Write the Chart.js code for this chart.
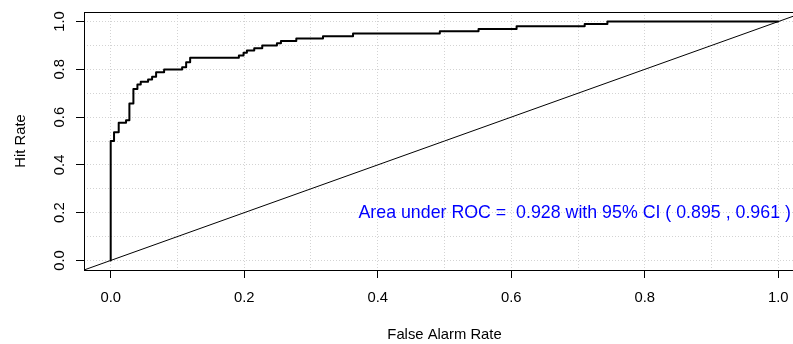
<!DOCTYPE html>
<html><head><meta charset="utf-8">
<script src="https://cdn.jsdelivr.net/npm/chart.js@4.4.1/dist/chart.umd.min.js"></script>
<style>html,body{margin:0;padding:0;background:#fff;overflow:hidden;width:793px;height:344px}canvas{display:block}</style>
</head><body>
<canvas id="c" width="820" height="344"></canvas>
<script>
// ROC curve corner points (False Alarm Rate, Hit Rate)
const rocFAR = [0, 0, 0.005, 0.012, 0.023, 0.028, 0.034, 0.040, 0.045, 0.056, 0.062, 0.068, 0.080, 0.107, 0.113, 0.119, 0.192, 0.199, 0.204, 0.215, 0.227, 0.249, 0.255, 0.278, 0.318, 0.363, 0.493, 0.551, 0.608, 0.710, 0.744, 1.0];
const rocHR  = [0, 0.5, 0.537, 0.576, 0.587, 0.657, 0.718, 0.736, 0.748, 0.757, 0.769, 0.788, 0.799, 0.809, 0.830, 0.849, 0.858, 0.869, 0.879, 0.888, 0.900, 0.909, 0.919, 0.929, 0.938, 0.950, 0.959, 0.969, 0.980, 0.990, 1.0, 1.0];
const axisLimits = [-0.04, 1.04];
const gridValues = [0, 0.1, 0.2, 0.3, 0.4, 0.5, 0.6, 0.7, 0.8, 0.9, 1.0];
const xTickLabels = ['0.0', '0.2', '0.4', '0.6', '0.8', '1.0'];
const yTickLabels = ['0.0', '0.2', '0.4', '0.6', '0.8', '1.0'];
const xTitle = 'False Alarm Rate';
const yTitle = 'Hit Rate';
const aucText = 'Area under ROC =  0.928 with 95% CI ( 0.895 , 0.961 )';
const aucPos = [0.695, 0.2];

const FONT = "'Liberation Sans', Arial, Helvetica, sans-serif";
const BASE = 14.8;
const labelFor = (labels, v) => {
  const l = labels.find(s => Math.abs(parseFloat(s) - v) < 1e-9);
  return l === undefined ? '' : l;
};
const setTicks = s => { s.ticks = gridValues.map(v => ({value: v})); };

const framePlugin = {
  id: 'frameAndText',
  afterDraw(chart) {
    const {ctx, chartArea: a, scales: {x, y}} = chart;
    ctx.save();
    ctx.strokeStyle = '#000';
    ctx.lineWidth = 1;
    ctx.strokeRect(a.left + 0.5, a.top + 0.5, a.right - a.left, a.bottom - a.top);
    // rotated y tick labels
    ctx.fillStyle = '#000';
    ctx.font = BASE + 'px ' + FONT;
    ctx.textAlign = 'center';
    ctx.textBaseline = 'alphabetic';
    yTickLabels.forEach(l => {
      ctx.save();
      ctx.translate(a.left - 20.5, y.getPixelForValue(parseFloat(l)));
      ctx.rotate(-Math.PI / 2);
      ctx.fillText(l, 0, 0);
      ctx.restore();
    });
    // AUC annotation
    const fs = 17.8;
    ctx.font = fs + 'px ' + FONT;
    ctx.fillStyle = '#0000FF';
    ctx.textAlign = 'center';
    ctx.fillText(aucText, x.getPixelForValue(aucPos[0]), y.getPixelForValue(aucPos[1]) + 0.3 * fs);
    ctx.restore();
  }
};

new Chart(document.getElementById('c'), {
  type: 'scatter',
  data: {
    datasets: [
      {
        data: rocFAR.map((v, i) => ({x: v, y: rocHR[i]})),
        showLine: true, stepped: 'before',
        borderColor: '#000', borderWidth: 2,
        borderJoinStyle: 'round', borderCapStyle: 'round',
        pointRadius: 0, pointHoverRadius: 0
      },
      {
        data: axisLimits.map(v => ({x: v, y: v})),
        showLine: true,
        borderColor: '#000', borderWidth: 1,
        pointRadius: 0, pointHoverRadius: 0
      }
    ]
  },
  options: {
    responsive: false, animation: false, devicePixelRatio: 1,
    layout: {padding: {top: 12, right: 15, left: 0, bottom: 0}},
    plugins: {legend: {display: false}, tooltip: {enabled: false}},
    events: [],
    scales: {
      x: {
        type: 'linear', min: axisLimits[0], max: axisLimits[1],
        afterBuildTicks: setTicks,
        afterFit: s => { s.height = 74; },
        grid: {
          color: '#d3d3d3', lineWidth: 1, tickLength: 8, tickWidth: 1, tickBorderDash: [],
          tickColor: c => labelFor(xTickLabels, c.tick ? c.tick.value : NaN) ? '#000' : 'rgba(0,0,0,0)'
        },
        border: {display: false, dash: [1, 2]},
        ticks: {
          autoSkip: false, maxRotation: 0, minRotation: 0, padding: 11, color: '#000',
          font: {family: FONT, size: BASE},
          callback: v => labelFor(xTickLabels, v)
        },
        title: {display: true, text: xTitle, color: '#000', font: {family: FONT, size: BASE}, padding: {top: 0, bottom: 0}}
      },
      y: {
        type: 'linear', min: axisLimits[0], max: axisLimits[1],
        afterBuildTicks: setTicks,
        afterFit: s => { s.width = 84; },
        grid: {
          color: '#d3d3d3', lineWidth: 1, tickLength: 8, tickWidth: 1, tickBorderDash: [],
          tickColor: c => labelFor(yTickLabels, c.tick ? c.tick.value : NaN) ? '#000' : 'rgba(0,0,0,0)'
        },
        border: {display: false, dash: [1, 2]},
        ticks: {display: false},
        title: {display: true, text: yTitle, color: '#000', font: {family: FONT, size: BASE}, padding: {top: 12.2, bottom: 0}}
      }
    }
  },
  plugins: [framePlugin]
});
</script>
</body></html>
